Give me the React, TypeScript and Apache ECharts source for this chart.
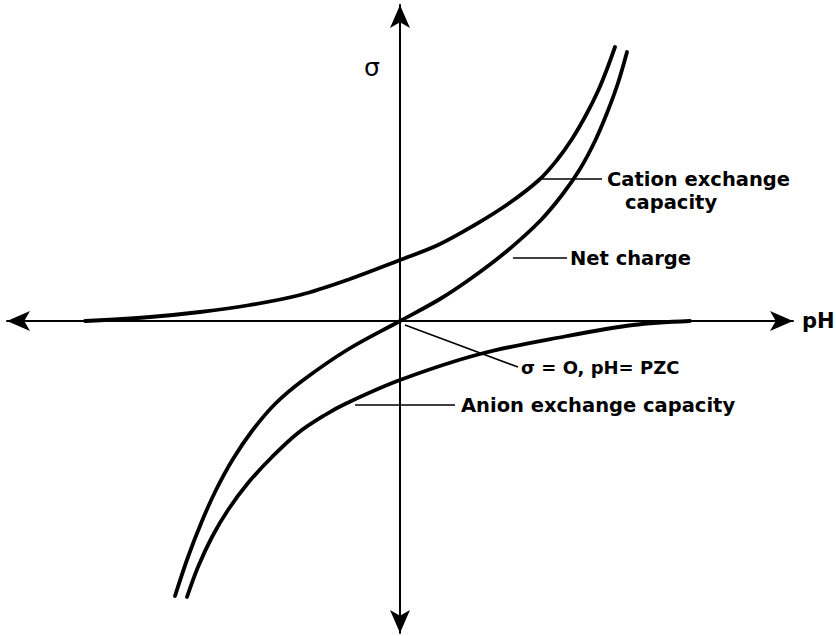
import React, { useEffect, useRef } from "react";
import * as echarts from "echarts";

// Curves: [pH relative to PZC, surface charge σ] in arbitrary units
const cationExchange: [number, number][] = [
  [-31.5, 0], [-25, 0.4], [-20, 0.9], [-15, 1.6], [-10, 2.6], [-5, 4.2], [0, 6.1],
  [3.8, 7.6], [7.3, 9.5], [10.8, 11.7], [13.9, 14.1], [15.7, 16.1], [17.2, 18.2],
  [18.6, 20.6], [19.8, 23.0], [20.7, 25.2], [21.5, 27.4],
];
const netCharge: [number, number][] = [
  [-22.5, -27.5], [-21.2, -23.6], [-19.8, -20.0], [-18.4, -16.9], [-16.7, -13.8],
  [-14.8, -11.0], [-12.5, -8.3], [-9.8, -6], [-5.3, -2.9], [0, 0], [4, 2.2],
  [7.3, 4.4], [10.7, 7], [14, 10], [16.2, 12.6], [18, 15.2], [19.5, 18],
  [20.7, 20.8], [21.8, 23.8], [22.7, 26.9],
];
const anionExchange: [number, number][] = [
  [-21.3, -27.6], [-20.2, -24.6], [-18.8, -21.6], [-17.2, -18.9], [-15.2, -16.2],
  [-12.8, -13.6], [-10.2, -11.2], [-7.5, -9.4], [-5.3, -8.2], [0, -5.9],
  [8, -3.3], [16.7, -1.5], [23.3, -0.4], [29, 0],
];

// Annotation leader lines (start, end) and their texts
const leaderCation: [number, number][] = [[14.1, 14.2], [20.2, 14.2]];
const leaderNet: [number, number][] = [[11.3, 6.3], [16.7, 6.3]];
const leaderPZC: [number, number][] = [[0.5, -0.4], [11.8, -4.6]];
const leaderAnion: [number, number][] = [[-4.5, -8.4], [5.5, -8.4]];

const labelCation = ["Cation exchange", "capacity"];
const labelNet = "Net charge";
const labelPZC = "σ = O, pH= PZC";
const labelAnion = "Anion exchange capacity";
const xName = "pH";
const yName = "σ";

const FONT = "DejaVu Sans";

export default function App() {
  const ref = useRef<HTMLDivElement>(null);
  useEffect(() => {
    if (!ref.current) return;
    const chart = echarts.init(ref.current, null, { renderer: "svg" });
    const axisCommon = {
      type: "value" as const,
      axisLine: {
        show: true,
        onZero: true,
        symbol: ["arrow", "arrow"],
        symbolSize: [15, 23],
        lineStyle: { color: "#000", width: 2 },
      },
      axisTick: { show: false },
      axisLabel: { show: false },
      splitLine: { show: false },
    };
    const curve = (name: string, data: [number, number][]) => ({
      name,
      type: "line" as const,
      data,
      smooth: 0.35,
      symbol: "none",
      silent: true,
      lineStyle: { color: "#000", width: 3.8, cap: "round", join: "round" },
      z: 3,
    });
    const textStyle = {
      fontFamily: FONT,
      fontSize: 19.5,
      fontWeight: "bold" as const,
      color: "#000",
    };
    const leader = (name: string, data: [number, number][], endLabel: any) => ({
      name,
      type: "line" as const,
      data,
      symbol: "none",
      silent: true,
      lineStyle: { color: "#000", width: 1.6 },
      endLabel: { show: true, distance: 4, ...textStyle, ...endLabel },
      z: 2,
    });
    chart.setOption({
      animation: false,
      backgroundColor: "#fff",
      grid: { left: 7, top: 5, width: 786, height: 628, outerBoundsMode: "none" },
      xAxis: {
        ...axisCommon,
        min: -39.3,
        max: 39.3,
        name: xName,
        nameLocation: "end",
        nameGap: 9,
        nameTextStyle: { ...textStyle, fontSize: 21 },
      },
      yAxis: {
        ...axisCommon,
        min: -31.2,
        max: 31.6,
        name: yName,
        nameLocation: "end",
        nameGap: -75,
        nameTextStyle: {
          fontFamily: FONT,
          fontSize: 25,
          color: "#000",
          padding: [0, 56, 0, 0],
        },
      },
      series: [
        curve("Cation exchange capacity", cationExchange),
        curve("Net charge", netCharge),
        curve("Anion exchange capacity", anionExchange),
        leader("lc", leaderCation, {
          formatter: `{a|${labelCation[0]}}\n{b|${labelCation[1]}}`,
          distance: 5,
          padding: [23, 0, 0, 0],
          rich: {
            a: { ...textStyle, lineHeight: 23 },
            b: { ...textStyle, lineHeight: 23, padding: [0, 0, 0, 18] },
          },
        }),
        leader("ln", leaderNet, { formatter: labelNet, distance: 3 }),
        leader("lp", leaderPZC, { formatter: labelPZC, fontSize: 18, distance: 3 }),
        leader("la", leaderAnion, { formatter: labelAnion, distance: 6 }),
      ],
    });
    return () => chart.dispose();
  }, []);
  return (
    <div
      ref={ref}
      style={{ position: "absolute", left: 0, top: 0, width: 836, height: 636 }}
    />
  );
}
